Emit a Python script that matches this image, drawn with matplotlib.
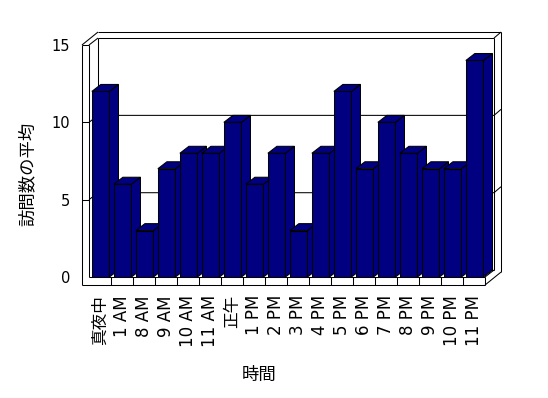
import matplotlib
matplotlib.use("Agg")
import matplotlib.pyplot as plt
from matplotlib.patches import Polygon

plt.rcParams["font.family"] = ["DejaVu Sans", "Noto Sans CJK JP"]

# =========================
# DATA
# =========================

hours = ["真夜中", "1 AM", "8 AM", "9 AM", "10 AM", "11 AM", "正午",
         "1 PM", "2 PM", "3 PM", "4 PM", "5 PM", "6 PM", "7 PM",
         "8 PM", "9 PM", "10 PM", "11 PM"]

visits = [12, 6, 3, 7, 8, 8, 10, 6, 8, 3, 8, 12, 7, 10, 8, 7, 7, 14]

y_ticks = [0, 5, 10, 15]

# =========================
# 3D BOX GEOMETRY (data units)
# =========================

N = len(hours)
YMAX = 15
DX, DY = 0.41, 0.45      # depth of plot area / bars
OX, OY = 0.73, 0.84      # outer depth incl. back wall
WALL = 0.32              # left wall thickness
FLOOR = 0.52             # floor thickness
BAR_W = 0.8
BAR_OFF = 0.53
NAVY = "#000080"

fig = plt.figure(figsize=(5.48, 3.98), dpi=100)
ax = fig.add_axes([89/548, 121/398, 396/548, 232/398])
ax.set_xlim(0, N)
ax.set_ylim(0, YMAX)
for s in ax.spines.values():
    s.set_visible(False)

lw = 0.75


def seg(pts, z=1):
    xs = [p[0] for p in pts]
    ys = [p[1] for p in pts]
    ax.plot(xs, ys, color="black", lw=lw, clip_on=False, zorder=z,
            solid_capstyle="butt")


# left wall
seg([(-WALL, -FLOOR), (-WALL, YMAX)])
seg([(0, 0), (0, YMAX)])
seg([(-WALL, YMAX), (0, YMAX)])
seg([(-WALL, YMAX), (-WALL+OX, YMAX+OY)])
seg([(0, YMAX), (DX, YMAX+DY)])
seg([(DX, YMAX+DY), (DX, DY)])

# back wall
seg([(-WALL+OX, YMAX+OY), (N+OX, YMAX+OY)])
seg([(DX, YMAX+DY), (N+DX, YMAX+DY)])
seg([(N+DX, YMAX+DY), (N+OX, YMAX+OY)])
seg([(N+DX, YMAX+DY), (N+DX, DY)])
seg([(N+OX, YMAX+OY), (N+OX, -FLOOR+OY)])

# floor
seg([(-WALL, -FLOOR), (N, -FLOOR)])
seg([(0, 0), (N, 0)])
seg([(N, 0), (N, -FLOOR)])
seg([(N, -FLOOR), (N+OX, -FLOOR+OY)])
seg([(N, 0), (N+DX, DY)])
seg([(DX, DY), (N+DX, DY)])
for i in range(1, N):
    seg([(i, 0), (i, -FLOOR)])

# ticks and gridlines
for v in y_ticks[1:-1]:
    seg([(-WALL, v), (0, v)])
    seg([(0, v), (DX, v+DY), (N+DX, v+DY), (N+OX, v+OY)])

# bars
for i, v in enumerate(visits):
    z = 3 + i*0.01
    left = i + BAR_OFF - BAR_W/2
    right = left + BAR_W
    ax.bar(i + BAR_OFF, v, width=BAR_W, color=NAVY, edgecolor="black",
           linewidth=lw, zorder=z)
    side = Polygon([(right, 0), (right+DX, DY), (right+DX, v+DY), (right, v)],
                   closed=True, facecolor=NAVY, edgecolor="black",
                   linewidth=lw, zorder=z, clip_on=False)
    top = Polygon([(left, v), (right, v), (right+DX, v+DY), (left+DX, v+DY)],
                  closed=True, facecolor=NAVY, edgecolor="black",
                  linewidth=lw, zorder=z, clip_on=False)
    ax.add_patch(side)
    ax.add_patch(top)

# axis labels
ax.set_yticks(y_ticks)
ax.set_yticklabels([str(t) for t in y_ticks], fontsize=10.5)
ax.tick_params(axis="y", length=0, pad=13.5)
ax.set_xticks([i + 0.5 for i in range(N)])
ax.set_xticklabels(hours, rotation=90, fontsize=12)
ax.tick_params(axis="x", length=0, pad=13)

fig.text(28/548, 1-174/398, "訪問数の平均", rotation=90, ha="center",
         va="center", fontsize=12.5)
fig.text(259/548, 1-375/398, "時間", ha="center", va="center",
         fontsize=12.5)

fig.savefig("out.png", dpi=100)
